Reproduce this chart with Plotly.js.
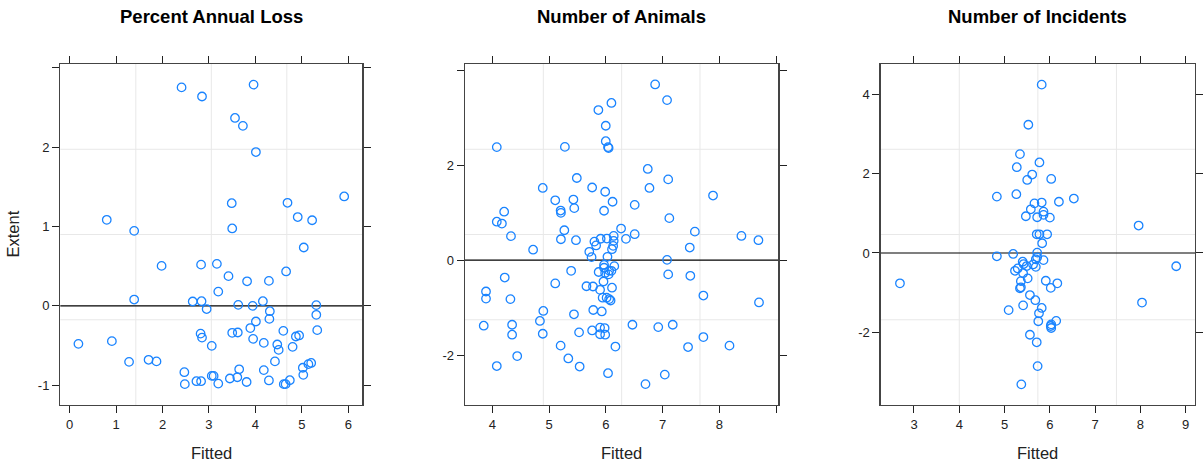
<!DOCTYPE html>
<html>
<head>
<meta charset="utf-8">
<script src="https://cdn.plot.ly/plotly-3.0.1.min.js"></script>
<style>
html,body{margin:0;padding:0;background:#fff;}
#chart{width:1203px;height:466px;}
</style>
</head>
<body>
<div id="chart"></div>
<script>
// Panel titles
const panelTitles = ["Percent Annual Loss", "Number of Animals", "Number of Incidents"];

// Panel 1: Percent Annual Loss
const fitted1 = [2.41,2.85,3.96,3.56,3.73,4.01,5.91,3.49,4.69,4.91,5.22,0.80,1.39,3.50,5.04,
  1.98,2.83,3.17,3.42,3.82,4.29,4.66,3.20,1.39,2.65,2.84,2.95,3.63,3.94,4.16,5.31,4.31,4.30,5.31,4.01,
  3.89,5.33,4.60,2.82,2.85,3.50,3.62,3.95,4.18,3.06,4.47,4.50,4.80,4.87,4.94,0.19,0.91,1.28,1.70,1.87,
  4.42,2.47,2.48,2.73,2.83,3.06,3.10,3.20,3.45,3.61,3.65,3.81,4.18,4.29,4.61,4.65,4.74,5.02,5.03,5.14,5.20];
const resid1 = [2.755,2.64,2.79,2.37,2.27,1.94,1.38,1.295,1.30,1.12,1.08,1.085,0.946,0.976,0.736,
  0.504,0.52,0.53,0.375,0.31,0.315,0.434,0.18,0.08,0.055,0.059,-0.04,0.013,0.0,0.059,0.009,-0.067,-0.164,-0.113,-0.197,
  -0.28,-0.306,-0.315,-0.35,-0.40,-0.34,-0.336,-0.416,-0.467,-0.504,-0.487,-0.555,-0.517,-0.386,-0.373,-0.479,-0.445,-0.706,-0.68,-0.70,
  -0.70,-0.836,-0.987,-0.95,-0.95,-0.883,-0.883,-0.98,-0.916,-0.90,-0.80,-0.96,-0.81,-0.94,-0.987,-0.987,-0.937,-0.78,-0.87,-0.735,-0.72];

// Panel 2: Number of Animals
const fitted2 = [6.87,7.08,6.10,5.87,6.00,6.00,6.04,6.05,4.08,5.28,6.74,7.10,5.49,4.89,5.76,6.77,5.99,7.89,5.11,5.43,
  6.12,5.205,5.21,5.445,5.97,6.51,7.12,4.08,4.17,4.21,4.33,5.27,5.21,5.475,6.27,6.51,6.356,7.57,8.39,8.69,7.48,4.72,
  5.80,5.83,5.91,6.02,6.14,6.14,6.13,6.11,5.71,5.75,6.03,5.97,5.97,6.06,6.15,5.99,6.05,6.10,5.39,5.875,5.96,6.11,
  5.66,5.775,5.90,5.945,6.015,6.06,6.085,5.44,5.78,5.93,
  7.08,7.10,7.49,7.72,8.70,4.22,3.89,3.89,4.32,5.11,4.90,4.84,3.85,4.35,4.35,4.89,5.53,5.76,5.90,5.98,5.90,5.99,
  6.47,6.925,7.18,7.72,8.18,7.45,5.205,6.17,4.44,5.34,4.08,5.54,6.04,7.04,6.70];
const resid2 = [3.70,3.37,3.31,3.16,2.83,2.505,2.38,2.36,2.38,2.385,1.92,1.70,1.73,1.52,1.53,1.52,1.44,1.36,1.26,1.276,
  1.23,1.044,0.996,1.095,1.04,1.164,0.884,0.81,0.77,1.02,0.505,0.63,0.44,0.42,0.665,0.547,0.448,0.60,0.51,0.42,0.265,0.22,
  0.39,0.31,0.45,0.455,0.51,0.406,0.30,0.23,0.175,0.063,0.07,-0.10,-0.16,-0.22,-0.126,-0.27,-0.30,-0.225,-0.225,-0.25,-0.45,-0.58,
  -0.55,-0.555,-0.625,-0.79,-0.79,-0.82,-0.85,-1.14,-1.05,-1.08,
  0.006,-0.30,-0.33,-0.745,-0.89,-0.366,-0.66,-0.81,-0.82,-0.49,-1.07,-1.28,-1.38,-1.36,-1.57,-1.55,-1.52,-1.48,-1.42,-1.43,-1.56,-1.57,
  -1.36,-1.41,-1.36,-1.62,-1.80,-1.83,-1.80,-1.82,-2.02,-2.07,-2.23,-2.24,-2.38,-2.41,-2.61];

// Panel 3: Number of Incidents
const fitted3 = [5.82,5.525,5.34,5.77,5.27,5.61,5.50,6.03,4.83,5.26,6.53,6.20,5.66,5.82,5.58,5.47,5.72,5.86,5.86,6.00,
  5.71,5.77,5.94,5.83,7.96,
  5.72,4.83,5.19,5.40,5.42,5.69,5.72,5.86,5.63,5.69,5.49,5.23,5.29,5.41,5.51,5.36,5.34,5.36,5.91,6.165,6.02,5.56,5.68,
  5.41,5.82,5.76,5.09,5.745,6.14,6.03,6.03,6.02,5.56,5.71,5.73,5.37,2.69,8.035,8.79];
const resid3 = [4.24,3.23,2.49,2.28,2.16,1.975,1.84,1.865,1.42,1.48,1.37,1.29,1.25,1.27,1.10,0.925,0.90,1.04,0.96,0.89,
  0.47,0.47,0.47,0.245,0.69,
  0.008,-0.084,-0.025,-0.22,-0.28,-0.16,-0.11,-0.18,-0.29,-0.35,-0.33,-0.45,-0.39,-0.51,-0.64,-0.71,-0.89,-0.865,-0.70,-0.765,-0.88,-1.06,-1.19,
  -1.32,-1.385,-1.52,-1.44,-1.72,-1.71,-1.80,-1.89,-1.84,-2.06,-2.25,-2.85,-3.31,-0.765,-1.25,-0.335];

// Tick values / labels
const xTicks1 = [0,1,2,3,4,5,6], xLabels1 = ["0","1","2","3","4","5","6"];
const yTicks1 = [-1,0,1,2,3], yLabels1 = ["-1","0","1","2",""];
const xTicks2 = [4,5,6,7,8,9], xLabels2 = ["4","5","6","7","8",""];
const yTicks2 = [-2,0,2,4], yLabels2 = ["-2","0","2",""];
const xTicks3 = [3,4,5,6,7,8,9], xLabels3 = ["3","4","5","6","7","8","9"];
const yTicks3 = [-2,0,2,4], yLabels3 = ["-2","0","2","4"];

const xRanges = [[-0.2,6.3],[3.52,9.04],[2.265,9.205]];
const yRanges = [[-1.25,3.05],[-3.05,4.13],[-3.83,4.76]];

const W = 1203, H = 466;
const xDom = [[60.3/W, 362.3/W],[465/W, 778.3/W],[880.7/W, 1195/W]];
const yDom = [(H-405)/H, (H-64)/H];

const FONT = "Liberation Sans, Arial, Helvetica, sans-serif";
const COL = "#1a84ff";

const xs = [fitted1, fitted2, fitted3];
const ys = [resid1, resid2, resid3];
const xT = [[xTicks1,xLabels1],[xTicks2,xLabels2],[xTicks3,xLabels3]];
const yT = [[yTicks1,yLabels1],[yTicks2,yLabels2],[yTicks3,yLabels3]];

const data = [];
const layout = {
  width: W, height: H,
  margin: {l:0, r:0, t:0, b:0},
  paper_bgcolor: "#fff", plot_bgcolor: "#fff",
  showlegend: false,
  font: {family: FONT, color: "#222"},
  shapes: [], annotations: []
};

for (let i = 0; i < 3; i++) {
  const sfx = i === 0 ? "" : String(i+1);
  data.push({
    x: xs[i], y: ys[i], type: "scatter", mode: "markers",
    xaxis: "x" + sfx, yaxis: "y" + sfx,
    marker: {symbol: "circle-open", size: 8.5, color: COL, line: {width: 1.3, color: COL}},
    hoverinfo: "x+y"
  });
  const axCommon = {
    showgrid: false, zeroline: false, showline: true, mirror: "allticks",
    linecolor: "#444", linewidth: 1.3,
    ticks: "outside", ticklen: 7, tickwidth: 1, tickcolor: "#222",
    tickfont: {family: FONT, size: 13, color: "#222"},
    tickmode: "array", fixedrange: true
  };
  layout["xaxis" + sfx] = Object.assign({}, axCommon, {
    domain: xDom[i], range: xRanges[i], anchor: "y" + sfx,
    tickvals: xT[i][0], ticktext: xT[i][1]
  });
  layout["yaxis" + sfx] = Object.assign({}, axCommon, {
    domain: yDom, range: yRanges[i], anchor: "x" + sfx,
    tickvals: yT[i][0], ticktext: yT[i][1]
  });
  const xr = "x" + sfx, yr = "y" + sfx;
  // grid lines at quarters
  [0.25, 0.5, 0.75].forEach(f => {
    layout.shapes.push({type:"line", layer:"below", xref: xr + " domain", yref: yr + " domain",
      x0: f, x1: f, y0: 0, y1: 1, line: {color: "#e8e8e8", width: 1}});
    layout.shapes.push({type:"line", layer:"below", xref: xr + " domain", yref: yr + " domain",
      x0: 0, x1: 1, y0: f, y1: f, line: {color: "#e8e8e8", width: 1}});
  });
  // zero reference line
  layout.shapes.push({type:"line", layer:"below", xref: xr + " domain", yref: yr,
    x0: 0, x1: 1, y0: 0, y1: 0, line: {color: "#000", width: 1.1}});
  const cx = (xDom[i][0] + xDom[i][1]) / 2;
  layout.annotations.push({text: "<b>" + panelTitles[i] + "</b>", xref: "paper", yref: "paper",
    x: cx, y: 1 - 17/H, xanchor: "center", yanchor: "middle", showarrow: false,
    font: {family: FONT, size: 18.5, color: "#000"}});
  layout.annotations.push({text: "Fitted", xref: "paper", yref: "paper",
    x: cx, y: 1 - 453/H, xanchor: "center", yanchor: "middle", showarrow: false,
    font: {family: FONT, size: 16.5, color: "#222"}});
}
layout.annotations.push({text: "Extent", xref: "paper", yref: "paper",
  x: 12/W, y: 1 - 234.5/H, xanchor: "center", yanchor: "middle", showarrow: false,
  textangle: -90, font: {family: FONT, size: 16.5, color: "#222"}});

Plotly.newPlot("chart", data, layout, {displayModeBar: false, staticPlot: true});
</script>
</body>
</html>
